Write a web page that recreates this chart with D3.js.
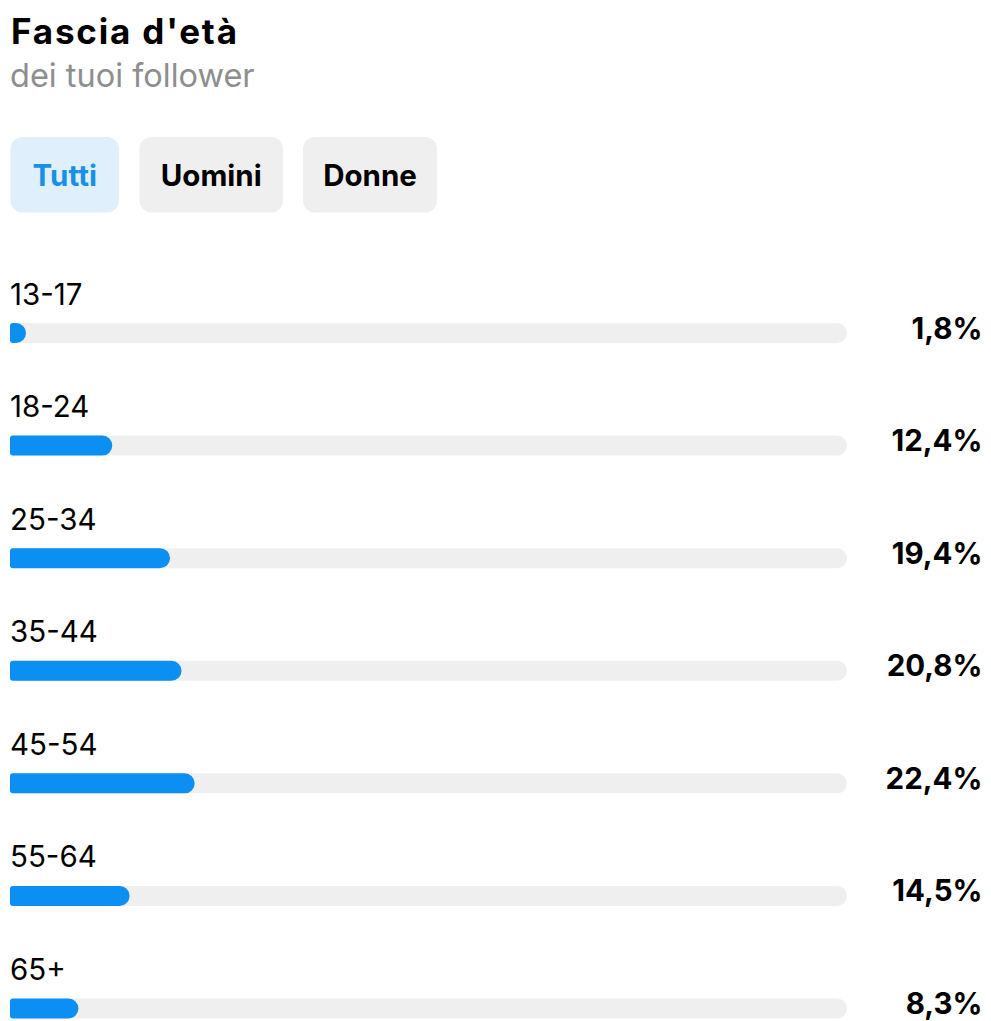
<!DOCTYPE html>
<html><head><meta charset="utf-8">
<script src="https://cdn.jsdelivr.net/npm/d3@7"></script>
<style>html,body{margin:0;padding:0;background:#fff;}svg{display:block;}</style>
</head><body>
<script>
const title = "Fascia d'età";
const subtitle = "dei tuoi follower";
const tabs = ["Tutti", "Uomini", "Donne"];
const categories = ["13-17", "18-24", "25-34", "35-44", "45-54", "55-64", "65+"];
const values = [1.8, 12.4, 19.4, 20.8, 22.4, 14.5, 8.3];
const valueLabels = ["1,8%", "12,4%", "19,4%", "20,8%", "22,4%", "14,5%", "8,3%"];

const W = 991, H = 1021;
const FONT = "Inter, 'Helvetica Neue', Arial, sans-serif";
const svg = d3.select("body").append("svg").attr("width", W).attr("height", H);

svg.append("text").attr("x", 11).attr("y", 44).text(title)
  .attr("font-family", FONT).attr("font-weight", 700).attr("font-size", 35).attr("fill", "#000")
  .attr("textLength", 226).attr("lengthAdjust", "spacing");
svg.append("text").attr("x", 10).attr("y", 87).text(subtitle)
  .attr("font-family", FONT).attr("font-weight", 400).attr("font-size", 32.5).attr("fill", "#8e8e8e");

// tabs
const tabX = [10.5, 139.5, 303];
const tabW = [108.5, 143.5, 134];
const tg = svg.selectAll("g.tab").data(tabs).join("g").attr("class", "tab");
tg.append("rect").attr("x", (d, i) => tabX[i]).attr("y", 137).attr("width", (d, i) => tabW[i]).attr("height", 75.5)
  .attr("rx", 12).attr("fill", (d, i) => i === 0 ? "#dfeffc" : "#efefef");
tg.append("text").attr("x", (d, i) => tabX[i] + tabW[i] / 2).attr("y", 185.5).attr("text-anchor", "middle")
  .attr("font-family", FONT).attr("font-weight", 700).attr("font-size", 29.5)
  .attr("fill", (d, i) => i === 0 ? "#1a8fe6" : "#000").text(d => d);

// bars
const x0 = 10, trackEnd = 847;
const x = d3.scaleLinear().domain([0, 101.5]).range([x0, trackEnd]);
const y = d3.scalePoint().domain(categories).range([323, 998.5]);
const barH = 20;

function roundedBar(xs, ys, w, h, rl, rr) {
  rr = Math.min(rr, h / 2, Math.max(w - rl, 0));
  const p = d3.path();
  p.moveTo(xs + rl, ys);
  p.lineTo(xs + w - rr, ys);
  p.arcTo(xs + w, ys, xs + w, ys + rr, rr);
  p.lineTo(xs + w, ys + h - rr);
  p.arcTo(xs + w, ys + h, xs + w - rr, ys + h, rr);
  p.lineTo(xs + rl, ys + h);
  p.arcTo(xs, ys + h, xs, ys + h - rl, rl);
  p.lineTo(xs, ys + rl);
  p.arcTo(xs, ys, xs + rl, ys, rl);
  p.closePath();
  return p.toString();
}

const rows = svg.selectAll("g.row").data(categories).join("g").attr("class", "row");
rows.append("text").attr("x", 10).attr("y", d => y(d) - 18.5)
  .attr("font-family", FONT).attr("font-weight", 400).attr("font-size", 29.5).attr("fill", "#000").text(d => d);
rows.append("path").attr("d", d => roundedBar(x0, y(d), trackEnd - x0, barH, 3, 10)).attr("fill", "#efefef");
rows.append("path").attr("d", (d, i) => roundedBar(x0, y(d), Math.max(x(values[i]) - x0, 16), barH, 3, 10)).attr("fill", "#0b8ff2");
rows.append("text").attr("x", 982.5).attr("y", d => y(d) + 15.5).attr("text-anchor", "end")
  .attr("font-family", FONT).attr("font-weight", 700).attr("font-size", 29.5).attr("fill", "#000")
  .text((d, i) => valueLabels[i]);
</script>
</body></html>
